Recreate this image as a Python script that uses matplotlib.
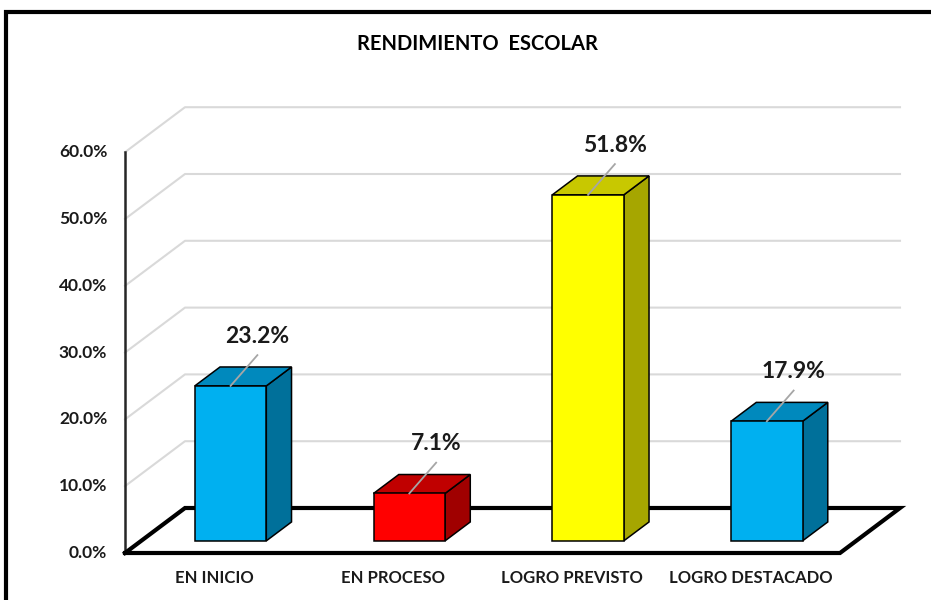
import matplotlib.pyplot as plt
from matplotlib.patches import Polygon, Rectangle

# datos
categorias = ['EN INICIO', 'EN PROCESO', 'LOGRO PREVISTO', 'LOGRO DESTACADO']
porcentajes = [23.2, 7.1, 51.8, 17.9]
marcas_y = [0, 10, 20, 30, 40, 50, 60]

colores_frente = ['#00B0F0', '#FF0000', '#FFFF00', '#00B0F0']
colores_arriba = ['#0089BD', '#C00000', '#C8C800', '#0089BD']
colores_lado = ['#00709A', '#A00000', '#A6A600', '#00709A']

plt.rcParams['font.family'] = ['Lato', 'DejaVu Sans']
plt.rcParams['font.weight'] = 'bold'

fig = plt.figure(figsize=(9.31, 6.0), dpi=100)
ax = fig.add_axes([0, 0, 1, 1])
ax.axis('off')

# escala: 178.75 px por categoria, 6.68 px por punto porcentual
px_x = 178.75
px_y = 6.68
ax.set_xlim(-0.5 - 125 / px_x, -0.5 + 806 / px_x)
ax.set_ylim(-47 / px_y, 553 / px_y)

# profundidad (proyeccion oblicua)
DX = 60 / px_x
DY = 45 / px_y


def proj(x, y, z):
    return (x + z * DX, y + z * DY)


x0, x1 = -0.5, len(categorias) - 0.5

# lineas de division: pared lateral y pared del fondo
for v in marcas_y[1:]:
    a = proj(x0, v, 0)
    b = proj(x0, v, 1)
    c = proj(x1, v, 1)
    ax.plot([a[0], b[0], c[0]], [a[1], b[1], c[1]], color='#d9d9d9', lw=1.5, zorder=1)
for v in marcas_y:
    ax.text(x0 - 0.1, v, f'{v:.1f}%', ha='right', va='center', fontsize=12.5, color='#1a1a1a')

# eje vertical
ax.plot([x0, x0], [0, marcas_y[-1]], color='#262626', lw=1.8, zorder=2)

# piso
esquinas = [proj(x0, 0, 0), proj(x1, 0, 0), proj(x1, 0, 1), proj(x0, 0, 1), proj(x0, 0, 0)]
ax.plot([p[0] for p in esquinas], [p[1] for p in esquinas], color='black', lw=3,
        solid_joinstyle='miter', zorder=2)

# barras 3D
ancho = 0.4
z0, z1 = 0.27, 0.69
for i, v in enumerate(porcentajes):
    xa, xb = i - ancho / 2, i + ancho / 2
    frente = [proj(xa, 0, z0), proj(xb, 0, z0), proj(xb, v, z0), proj(xa, v, z0)]
    arriba = [proj(xa, v, z0), proj(xb, v, z0), proj(xb, v, z1), proj(xa, v, z1)]
    lado = [proj(xb, 0, z0), proj(xb, 0, z1), proj(xb, v, z1), proj(xb, v, z0)]
    for pts, col in [(lado, colores_lado[i]), (arriba, colores_arriba[i]), (frente, colores_frente[i])]:
        ax.add_patch(Polygon(pts, closed=True, facecolor=col, edgecolor='black', lw=1.1,
                             joinstyle='miter', zorder=3))

    # etiqueta con linea guia
    px, py = proj(i, v, z0)
    ax.plot([px, px + 0.15], [py, py + 4.6], color='#a6a6a6', lw=1.3, zorder=4)
    ax.text(px + 0.15, py + 7.4, f'{v:.1f}%', ha='center', va='center', fontsize=16.5,
            color='#1a1a1a', zorder=5)

# categorias
for i, c in enumerate(categorias):
    ax.text(i, -3.75, c, ha='center', va='center', fontsize=12, color='#1a1a1a')

# titulo
fig.text(477 / 931, 1 - 44 / 600, 'RENDIMIENTO  ESCOLAR', ha='center', va='center',
         fontsize=14.5, color='black')

# marco
fig.add_artist(Rectangle((6 / 931, -0.05), 1.1, 1 - 12 / 600 + 0.05, transform=fig.transFigure,
                         fill=False, edgecolor='black', lw=3, clip_on=False))

plt.savefig('out.png', dpi=100)
